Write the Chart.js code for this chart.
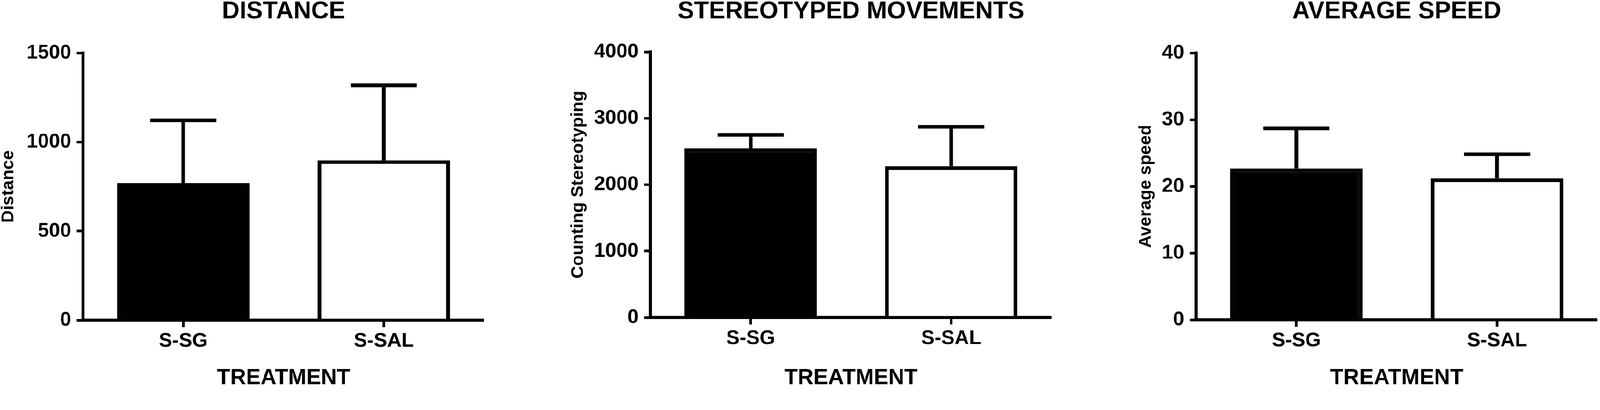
<!DOCTYPE html>
<html lang="en">
<head>
    <meta charset="UTF-8">
    <title>Treatment comparison</title>
    <script src="https://cdn.jsdelivr.net/npm/chart.js"></script>
    <style>
        html, body {
            margin: 0;
            background: #fff;
            overflow: hidden;
        }
        #stage {
            position: relative;
            width: 4317px;
            height: 1050px;
            transform-origin: 0 0;
        }
        canvas {
            position: absolute;
            top: 0;
        }
    </style>
</head>
<body>
    <div id="stage">
        <canvas id="distanceChart" style="left:0px"></canvas>
        <canvas id="stereoChart" style="left:1537px"></canvas>
        <canvas id="speedChart" style="left:3069px"></canvas>
    </div>

    <script>
        const categories = ['S-SG', 'S-SAL'];

        const distanceMean = [770, 897];
        const distanceErr = [352, 421];
        const distanceMax = 1500;
        const distanceStep = 500;

        const stereoMean = [2547, 2279];
        const stereoErr = [204, 593];
        const stereoMax = 4000;
        const stereoStep = 1000;

        const speedMean = [22.7, 21.2];
        const speedErr = [6.0, 3.6];
        const speedMax = 40;
        const speedStep = 10;

        // keep the 4317x1050 figure inside the window whatever its css size
        const fit = Math.min(window.innerWidth / 4317, window.innerHeight / 1050);
        document.getElementById('stage').style.transform = 'scale(' + fit + ')';

        const FONT = "'Liberation Sans', Arial, sans-serif";
        Chart.defaults.font.family = FONT;
        Chart.defaults.color = '#000';

        // upward-only SD bars with a cap half as wide as the bar
        const errorBars = {
            id: 'errorBars',
            afterDatasetsDraw(chart, args, opts) {
                const ctx = chart.ctx;
                const yScale = chart.scales.y;
                const values = chart.data.datasets[0].data;
                ctx.save();
                ctx.strokeStyle = '#000';
                ctx.lineWidth = 10;
                chart.getDatasetMeta(0).data.forEach((bar, i) => {
                    const top = yScale.getPixelForValue(values[i] + opts.errors[i]);
                    const half = bar.width / 4;
                    ctx.beginPath();
                    ctx.moveTo(bar.x, bar.y);
                    ctx.lineTo(bar.x, top);
                    ctx.moveTo(bar.x - half, top);
                    ctx.lineTo(bar.x + half, top);
                    ctx.stroke();
                });
                ctx.restore();
            }
        };

        // panel heading, centred over the plot area
        const panelTitle = {
            id: 'panelTitle',
            afterDraw(chart, args, opts) {
                const ctx = chart.ctx;
                const area = chart.chartArea;
                ctx.save();
                ctx.font = 'bold 66px ' + FONT;
                ctx.fillStyle = '#000';
                ctx.textAlign = 'center';
                ctx.textBaseline = 'middle';
                ctx.fillText(opts.text, (area.left + area.right) / 2, 32);
                ctx.restore();
            }
        };

        function drawChart(id, width, title, yTitle, means, errors, yMax, yStep, axisWidth, plotTop, plotBottom) {
            const canvas = document.getElementById(id);
            canvas.width = width;
            canvas.height = 1050;
            return new Chart(canvas.getContext('2d'), {
                type: 'bar',
                data: {
                    labels: categories,
                    datasets: [{
                        data: means,
                        backgroundColor: ['#000', '#fff'],
                        borderColor: '#000',
                        borderWidth: 10,
                        barPercentage: 0.66,
                        categoryPercentage: 1
                    }]
                },
                options: {
                    responsive: false,
                    animation: false,
                    layout: { padding: { top: plotTop, right: 0, bottom: 0, left: 0 } },
                    plugins: {
                        legend: { display: false },
                        tooltip: { enabled: false },
                        panelTitle: { text: title },
                        errorBars: { errors: errors }
                    },
                    scales: {
                        x: {
                            afterFit: (scale) => { scale.height = 1050 - plotBottom; },
                            border: { display: true, color: '#000', width: 8 },
                            grid: {
                                offset: false,
                                drawOnChartArea: false,
                                drawTicks: true,
                                tickLength: 19,
                                lineWidth: 7,
                                color: '#000'
                            },
                            ticks: {
                                padding: 11,
                                font: { size: 54, weight: 'bold', lineHeight: 1 }
                            },
                            title: {
                                display: true,
                                text: 'TREATMENT',
                                padding: 0,
                                font: { size: 59, weight: 'bold', lineHeight: 1 }
                            }
                        },
                        y: {
                            min: 0,
                            max: yMax,
                            afterFit: (scale) => { scale.width = axisWidth; },
                            border: { display: true, color: '#000', width: 8 },
                            grid: {
                                drawOnChartArea: false,
                                drawTicks: true,
                                tickLength: 17,
                                lineWidth: 7,
                                color: '#000'
                            },
                            ticks: {
                                stepSize: yStep,
                                padding: 15,
                                callback: (v) => String(v),
                                font: { size: 54, weight: 'bold' }
                            },
                            title: {
                                display: true,
                                text: yTitle,
                                padding: 0,
                                font: { size: 47, weight: 'bold', lineHeight: 1 }
                            }
                        }
                    }
                },
                plugins: [errorBars, panelTitle]
            });
        }

        drawChart('distanceChart', 1306, 'DISTANCE', 'Distance',
            distanceMean, distanceErr, distanceMax, distanceStep, 224, 143, 864);
        drawChart('stereoChart', 1300, 'STEREOTYPED MOVEMENTS', 'Counting Stereotyping',
            stereoMean, stereoErr, stereoMax, stereoStep, 218, 140, 857);
        drawChart('speedChart', 1241, 'AVERAGE SPEED', 'Average speed',
            speedMean, speedErr, speedMax, speedStep, 158, 143, 863);
    </script>
</body>
</html>
